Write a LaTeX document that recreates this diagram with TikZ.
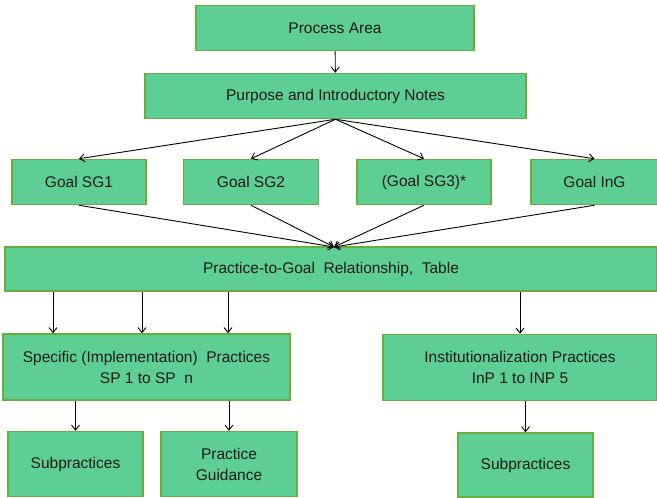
\documentclass[tikz,border=0pt]{standalone}
\usepackage{fontspec}
\setmainfont{Liberation Sans}
\usetikzlibrary{arrows.meta}
\definecolor{boxfill}{HTML}{5ECF94}
\definecolor{boxline}{HTML}{6AAF3D}
\definecolor{boxtext}{HTML}{1A1A1A}

\begin{document}
\begin{tikzpicture}[x=1pt,y=-1pt,
  every node/.style={draw=boxline,fill=boxfill,line width=1.5pt,align=center,
    text=boxtext,font=\fontsize{15.5}{21}\selectfont,inner sep=2pt},
  arr/.style={-{Straight Barb[length=5pt,width=8pt]},line width=0.9pt,black}]
\useasboundingbox (0,0) rectangle (657,498);
\node[minimum width=278pt,minimum height=45pt] (pa) at (335,28) {Process Area};
\node[minimum width=381pt,minimum height=45pt] (pin) at (335.5,96) {Purpose and Introductory Notes};
\node[minimum width=134pt,minimum height=45pt] (sg1) at (79,182) {Goal SG1};
\node[minimum width=135pt,minimum height=45pt] (sg2) at (251,182) {Goal SG2};
\node[minimum width=134pt,minimum height=45pt] (sg3) at (424,182) {(Goal SG3)*};
\node[minimum width=127pt,minimum height=45pt] (ing) at (594.5,182) {Goal InG};
\node[minimum width=652pt,minimum height=44pt] (ptg) at (331,269) {Practice-to-Goal\ \ Relationship,\ \ Table};
\node[minimum width=287pt,minimum height=66pt] (spi) at (146.5,367) {Specific\ (Implementation)\ \ Practices\\SP 1 to SP\ \ n};
\node[minimum width=274pt,minimum height=66pt] (inp) at (520,367.5) {Institutionalization\ Practices\\InP 1 to INP 5};
\node[minimum width=135pt,minimum height=65pt] (sub1) at (75.5,464) {Subpractices};
\node[minimum width=136pt,minimum height=65pt] (guid) at (229,464) {Practice\\Guidance};
\node[minimum width=135pt,minimum height=64pt] (sub2) at (525.5,465) {Subpractices};
\coordinate (hub) at (334,247);

\draw[arr] (pa) -- (pin);
\draw[arr] (pin.south) -- (sg1.north);
\draw[arr] (pin.south) -- (sg2.north);
\draw[arr] (pin.south) -- (sg3.north);
\draw[arr] (pin.south) -- (ing.north);
\draw[arr] (sg1.south) -- (hub);
\draw[arr] (sg2.south) -- (hub);
\draw[arr] (sg3.south) -- (hub);
\draw[arr] (ing.south) -- (hub);
\foreach \x in {53,142,228}
  \draw[arr] (ptg.south -| \x,0) -- (spi.north -| \x,0);
\draw[arr] (ptg.south -| inp) -- (inp);
\draw[arr] (spi.south -| sub1) -- (sub1);
\draw[arr] (spi.south -| guid) -- (guid);
\draw[arr] (inp.south -| sub2) -- (sub2);
\end{tikzpicture}
\end{document}
